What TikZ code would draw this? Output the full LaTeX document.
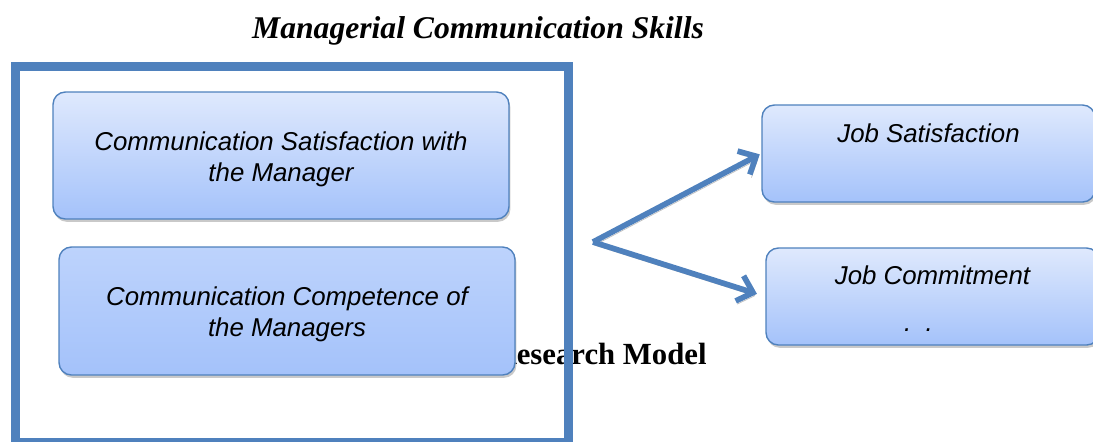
\documentclass[tikz,border=0pt]{standalone}
\usepackage{fontspec}
\setmainfont{Liberation Serif}
\setsansfont{Liberation Sans}
\usetikzlibrary{positioning,calc,shadows,arrows.meta}
\definecolor{frameblue}{HTML}{4F81BD}
\definecolor{boxtop}{HTML}{DFE9FD}
\definecolor{boxbot}{HTML}{A4C2FA}
\definecolor{boxmid}{HTML}{BDD3FC}
\begin{document}
\begin{tikzpicture}[x=0.02cm, y=-0.02cm,
    box/.style={draw=frameblue, line width=0.8pt, rounded corners=7pt,
        shading=axis, top color=boxtop, bottom color=boxbot,
        drop shadow={shadow xshift=0.8pt, shadow yshift=-1.6pt, fill=black!30, opacity=0.7}},
    lbl/.style={font=\sffamily\itshape\fontsize{14.7}{17.6}\selectfont, inner sep=0pt, align=center},
    link/.style={draw=frameblue, line width=3.2pt,
        -{Straight Barb[length=8pt, width=15pt]},
        preaction={draw=black!25, transform canvas={shift={(0.9pt,-1.8pt)}}}}]
    \useasboundingbox (0,0) rectangle (1093,441);

    % titles
    \node[font=\bfseries\itshape\fontsize{18}{20}\selectfont, inner sep=0pt, anchor=base] (title) at (478,38) {Managerial Communication Skills};
    \node[font=\bfseries\fontsize{17.5}{20}\selectfont, inner sep=0pt, anchor=base east] (model) at (707,364) {Research Model};

    % frame
    \draw[frameblue, line width=5.1pt] (15.5,66.5) rectangle (568.5,442);

    % boxes
    \node[box, minimum width=9.12cm, minimum height=2.54cm] (sat) at (281,155.5) {};
    \node[box, minimum width=9.12cm, minimum height=2.56cm, top color=boxmid] (comp) at (287,311) {};
    \node[box, minimum width=6.66cm, minimum height=1.94cm] (js) at (928.5,153.5) {};
    \node[box, minimum width=6.66cm, minimum height=1.94cm] (jc) at (932.5,296.5) {};
    \node[lbl] (sattxt) at ($(sat.center)+(0,4)$) {Communication Satisfaction with\\the Manager};
    \node[lbl] (comptxt) at ($(comp.center)+(0,3)$) {Communication Competence of\\the Managers};
    \node[lbl, anchor=base] (jstxt) at ($(js.north)+(0,38)$) {Job Satisfaction};
    \node[lbl, anchor=base] (jctxt) at ($(jc.north)+(0,37)$) {Job Commitment};
    \node[lbl, anchor=base] (jcdots) at ($(jc.north)+(-14,84)$) {.\ \ .};

    % arrows
    \coordinate (hub) at (593,242);
    \draw[link, shorten >=1pt] (hub) -- (js.west);
    \draw[link, shorten >=5pt] (hub) -- (jc.west);
\end{tikzpicture}
\end{document}
